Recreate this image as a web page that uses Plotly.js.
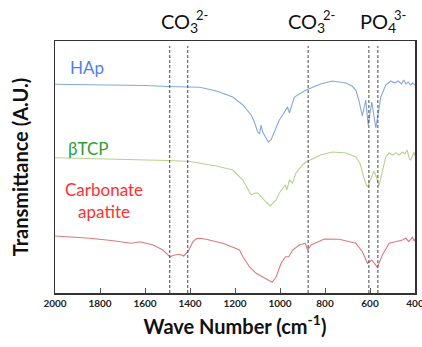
<!DOCTYPE html>
<html>
<head>
<meta charset="utf-8">
<script src="https://cdn.plot.ly/plotly-3.0.1.min.js"></script>
<style>html,body{margin:0;padding:0;background:#fff;}#chart{width:422px;height:347px;}</style>
</head>
<body>
<div id="chart"></div>
<script>
// Wavenumbers (cm-1) and arbitrary transmittance values
const hapX = [2000,1900,1800,1700,1600,1500,1400,1357,1283,1210,1165,1128,1114,1099,1091,1084,1077,1062,1052,1040,1017,1003,988,976,967,958,944,936,884,820,768,707,680,663,650,641,634,619,608,592,574,552,530,508,490,475,460,450,440,430,420,410,400];
const hapY = [208.7,208.3,208.5,208,207.5,206.5,206,205.7,202,196,188,178,171,161,159,168,161,155,151,153,165,173,178,183,186,180,190,196,203,209,212,210,207,203,193,183,177,193,168,191,165,196,208,212,210,212,209,213,209,211,208,210,208];

const tcpX = [2000,1900,1800,1700,1600,1500,1400,1357,1283,1210,1165,1128,1114,1099,1084,1062,1044,1017,1003,988,976,970,958,944,929,900,884,820,768,707,663,645,634,620,611,600,582,570,560,545,530,515,500,485,471,455,445,435,425,419,410,404,400];
const tcpY = [135.3,134.8,134.5,134,133.5,132.5,131.5,129.7,127,123,113,98,99.7,100,96,91,87,93,100,105,108,103,113,110,120,128,131,138,141,140,136,130,120,110,106,112,122,115,107,122,136,140,138,140,138,141,139,143,134,133,139,141,137];

const caX = [2000,1900,1845,1750,1660,1623,1564,1520,1490,1468,1446,1428,1409,1387,1370,1357,1328,1283,1254,1210,1180,1165,1136,1106,1069,1035,1017,995,976,961,944,914,888,877,862,803,737,663,634,611,592,567,545,515,486,456,441,427,412,403,400];
const caY = [57,55.5,54.7,52.5,49.7,51.3,48,43,36.3,38,38.7,37,41.3,51.3,54.5,54.7,53.7,51.3,49.7,45.7,43,36.3,26.3,19.7,14.7,10.7,16.3,29.7,36.3,36.3,43,48,49.7,43,48,54,53.7,49.7,41.3,29.7,33,25.7,38,49.7,51.3,53,54.7,51.3,55.7,52,54];

const bandLines = [1490, 1410, 875, 605, 565];
const seriesNames = ["HAp", "βTCP", "Carbonate<br>apatite"];
const xTickVals = [2000,1800,1600,1400,1200,1000,800,600,400];

const FONT = "Lato, 'Open Sans', sans-serif";

const traces = [
  {x: hapX, y: hapY, mode: "lines", line: {color: "#84a9da", width: 1.1}, name: "HAp"},
  {x: tcpX, y: tcpY, mode: "lines", line: {color: "#b9d18e", width: 1.1}, name: "βTCP"},
  {x: caX, y: caY, mode: "lines", line: {color: "#d97a7c", width: 1.1}, name: "Carbonate apatite"}
];

const shapes = bandLines.map(v => ({
  type: "line", xref: "x", yref: "paper", x0: v, x1: v, y0: 0, y1: 0.98,
  line: {color: "#444", width: 1, dash: "3px,2px"}
}));

const W = 360, H = 252, L = 55, T = 41;
const px = p => (p - L) / W;
const py = p => (T + H - p) / H;

const annotations = [
  {text: seriesNames[0], xref: "paper", yref: "paper", x: px(68), y: py(68), xanchor: "left", yanchor: "middle", showarrow: false, font: {family: FONT, size: 17, color: "#4f7ff0"}},
  {text: seriesNames[1], xref: "paper", yref: "paper", x: px(66), y: py(148), xanchor: "left", yanchor: "middle", showarrow: false, font: {family: FONT, size: 17, color: "#2f9e35"}},
  {text: seriesNames[2], xref: "paper", yref: "paper", x: px(104), y: py(200), xanchor: "center", yanchor: "middle", align: "center", showarrow: false, font: {family: FONT, size: 17, color: "#ff2f2f"}},
  // ion labels
  {text: "CO<sub>3</sub>", xref: "paper", yref: "paper", x: px(159), y: py(22), xanchor: "left", yanchor: "middle", showarrow: false, font: {family: FONT, size: 20, color: "#111"}},
  {text: "2-", xref: "paper", yref: "paper", x: px(194), y: py(15), xanchor: "left", yanchor: "middle", showarrow: false, font: {family: FONT, size: 13, color: "#111"}},
  {text: "CO<sub>3</sub>", xref: "paper", yref: "paper", x: px(286), y: py(22), xanchor: "left", yanchor: "middle", showarrow: false, font: {family: FONT, size: 20, color: "#111"}},
  {text: "2-", xref: "paper", yref: "paper", x: px(321), y: py(15), xanchor: "left", yanchor: "middle", showarrow: false, font: {family: FONT, size: 13, color: "#111"}},
  {text: "PO<sub>4</sub>", xref: "paper", yref: "paper", x: px(358), y: py(22), xanchor: "left", yanchor: "middle", showarrow: false, font: {family: FONT, size: 20, color: "#111"}},
  {text: "3-", xref: "paper", yref: "paper", x: px(392), y: py(15), xanchor: "left", yanchor: "middle", showarrow: false, font: {family: FONT, size: 13, color: "#111"}}
];

const layout = {
  width: 422, height: 347,
  margin: {l: L, r: 422 - L - W, t: T, b: 347 - T - H},
  paper_bgcolor: "#fff", plot_bgcolor: "#fff",
  showlegend: false,
  xaxis: {
    range: [2000, 400], tickvals: xTickVals, ticktext: xTickVals.map(String),
    ticks: "inside", ticklen: 5, tickcolor: "#555", tickwidth: 1,
    showline: true, mirror: true, linecolor: "#333", linewidth: 1.5,
    showgrid: false, zeroline: false, ticklabeloverflow: "allow",
    tickfont: {family: FONT, size: 10, color: "#222", weight: "bold"},
    title: {text: "Wave Number (cm<sup>-1</sup>)", font: {family: FONT, size: 20, color: "#111", weight: "bold"}, standoff: 12},
    automargin: false
  },
  yaxis: {
    range: [0, 252], showticklabels: false, ticks: "",
    showline: true, mirror: true, linecolor: "#333", linewidth: 1.5,
    showgrid: false, zeroline: false,
    title: {text: "Transmittance (A.U.)", font: {family: FONT, size: 20, color: "#111", weight: "bold"}, standoff: 19},
    automargin: false
  },
  shapes: shapes,
  annotations: annotations
};

Plotly.newPlot("chart", traces, layout, {displayModeBar: false, staticPlot: true});
</script>
</body>
</html>
